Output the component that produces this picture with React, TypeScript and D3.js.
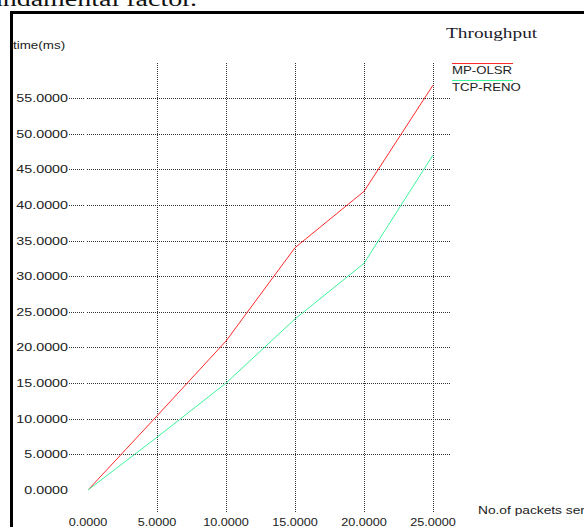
import React from "react";
import * as d3 from "d3";

// values
const packets = [0, 5, 10, 15, 20, 25];
const mpOlsr = [0, 10.4, 20.9, 34, 41.9, 56.8];
const tcpReno = [0, 7.4, 15, 24, 31.8, 47];
const yTicks = [0, 5, 10, 15, 20, 25, 30, 35, 40, 45, 50, 55];
const xTicks = [0, 5, 10, 15, 20, 25];
const seriesNames = ["MP-OLSR", "TCP-RENO"];

const W = 584;
const H = 527;
const colors = ["#ff2a2a", "#3ff29c"];
const sans = "'Liberation Sans', Arial, sans-serif";
const serif = "'Liberation Serif', 'Times New Roman', serif";

const App = () => {
  const x = d3.scaleLinear().domain([0, 25]).range([88, 433]);
  const y = d3.scaleLinear().domain([0, 55]).range([490, 98]);

  const line = d3
    .line<number>()
    .x((d, i) => x(packets[i]))
    .y((d) => y(d));

  const series = [mpOlsr, tcpReno];
  const fmt = d3.format(".4f");

  // stretched text, the reference looks scaled horizontally
  const sText = (
    tx: number,
    ty: number,
    sx: number,
    label: string,
    props: any = {}
  ) => (
    <text
      transform={`translate(${tx},${ty}) scale(${sx},1)`}
      fontFamily={sans}
      fontSize={11}
      fill="#222"
      {...props}
    >
      {label}
    </text>
  );

  return (
    <div style={{ position: "absolute", left: 0, top: 0 }}>
      <svg width={W} height={H} style={{ display: "block", background: "#fff" }}>
        {/* bit of page text above the figure */}
        <text
          transform="translate(197,6) scale(1.4,1)"
          textAnchor="end"
          fontFamily={serif}
          fontSize={20}
          fill="#111"
        >
          fundamental factor.
        </text>

        {/* frame */}
        <line x1={10} x2={W} y1={12.5} y2={12.5} stroke="#000" strokeWidth={3} />
        <line x1={11.5} x2={11.5} y1={11} y2={H} stroke="#000" strokeWidth={3} />

        {/* horizontal grid */}
        {yTicks.map((t) => (
          <g key={"h" + t}>
            {t > 0 && (
              <>
                <line x1={69} x2={84} y1={Math.round(y(t)) + 0.5} y2={Math.round(y(t)) + 0.5}
                  stroke="#333" strokeDasharray="1,1" />
                <line x1={87} x2={451} y1={Math.round(y(t)) + 0.5} y2={Math.round(y(t)) + 0.5}
                  stroke="#333" strokeDasharray="1,1" />
              </>
            )}
            {sText(68, y(t) + 4, 1.3, fmt(t), { textAnchor: "end" })}
          </g>
        ))}

        {/* vertical grid */}
        {xTicks.map((t) => (
          <g key={"v" + t}>
            {t > 0 && (
              <line x1={Math.round(x(t)) + 0.5} x2={Math.round(x(t)) + 0.5} y1={63} y2={512}
                stroke="#333" strokeDasharray="1,1" />
            )}
            {sText(x(t), 526, 1.15, fmt(t), { textAnchor: "middle" })}
          </g>
        ))}

        {/* axis titles */}
        {sText(13, 49, 1.22, "time(ms)")}
        {sText(478, 514, 1.25, "No.of packets sent")}

        {/* data */}
        {series.map((s, i) => (
          <path key={seriesNames[i]} d={line(s) || ""} fill="none" stroke={colors[i]} strokeWidth={1} />
        ))}

        {/* legend */}
        <text
          transform="translate(446,37.5) scale(1.38,1)"
          fontFamily={serif}
          fontSize={14}
          fill="#1a1a2a"
        >
          Throughput
        </text>
        {seriesNames.map((n, i) => (
          <g key={"l" + n}>
            <line x1={452} x2={513} y1={63.5 + i * 17} y2={63.5 + i * 17} stroke={colors[i]} strokeWidth={1.2} />
            {sText(452, 74 + i * 17, 1.2, n)}
          </g>
        ))}
      </svg>
    </div>
  );
};

export default App;
